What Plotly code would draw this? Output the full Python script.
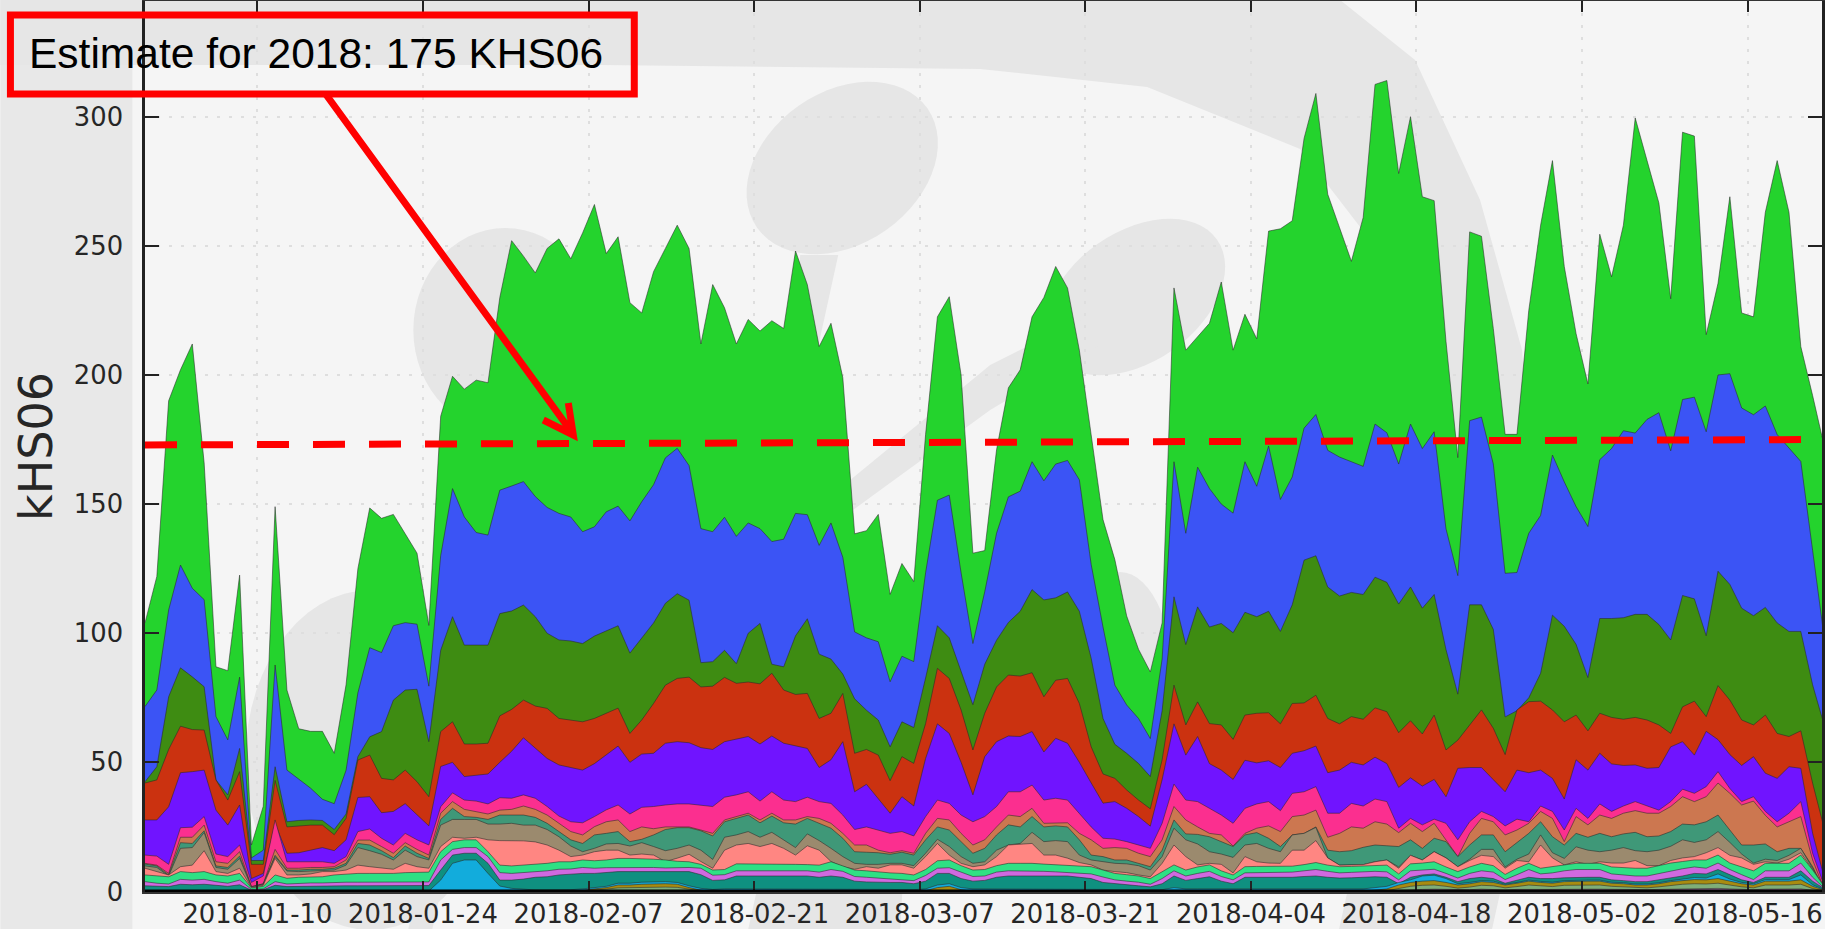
import numpy as np
import pandas as pd
import plotly.graph_objects as go

tick_dates = ["2018-01-10", "2018-01-24", "2018-02-07", "2018-02-21", "2018-03-07",
              "2018-03-21", "2018-04-04", "2018-04-18", "2018-05-02", "2018-05-16"]
y_ticks = [0, 50, 100, 150, 200, 250, 300]

# Top edge of each stacked band, one value per day
total = [104,122,190,202,212,166,87,85.5,122.5,18,
 33,149,78,63,62,62,53.5,80,125,148.5,
 144.5,146,138.5,131,103,184,199.5,194.5,198,197,
 230,252,246,239.5,249,252.7,245,255,266,247,
 253.5,228,224,240,249,258,249,212,235,226,
 212,221.5,217,221,218,248,235,211,220,199,
 138.5,139.7,146,115,127,120,177,222.5,230.3,200,
 131,132,171,195,202,222.5,230,242,233.7,209.6,
 176.8,144,128.5,106.7,93.8,85,104,233.7,209.6,214.7,
 220,236,209.6,223.5,214,255.7,256.6,259.7,291.6,309,
 270,257,244,261,312.5,314,278,300,269,267.5,
 213,168,255.4,253.7,218,177,177,225,258,283,
 242,216,196.5,254.5,238,258,299.5,283,266.6,229.5,
 294,292.5,215.6,235.5,269,224,222.5,263,283,263,
 211,192,172]
blue = [71.6,78,109,126.4,117.4,113,67.7,58.7,83,13,
 16,87.7,47,43.4,40,35.7,34,46.9,76.9,94.4,
 92.5,102.9,104.1,103.5,79.5,130,156,145,139,138,
 155.4,157,158.7,152.9,148.7,146.4,145,139.3,141.2,147,
 149.2,143.5,150.9,157.5,167.9,171.6,164.9,140.5,139.3,144.9,
 137.5,142.7,140.5,135.5,136.4,146.4,145.9,134,142.7,129.4,
 100.5,98.2,96.7,81.2,91.1,89,123.4,151.5,153.5,123.4,
 96,116,138.7,152.8,155,166.4,159,165.5,166.9,159.4,
 126.6,102.4,79.9,72.2,67,59.2,90,166.4,138.7,164.3,
 156,150,146.5,166.4,156.9,172.5,151.8,160.5,179.4,184.7,
 170.8,168.2,166.4,164.6,181,177.6,165.5,181,171.5,178,
 140.4,122.3,182.3,183.7,165.5,123.2,123.5,138.7,145.6,169,
 158.6,149,141.3,167.2,171.5,178.4,177.5,182.8,185.4,170.6,
 190.5,191.4,178,200,200.5,187.2,184.6,188,176.9,171.7,
 166.5,132,97.4]
dark_green = [42.5,48.3,75.4,86.6,83.1,79.3,43.2,37.4,55.4,12,
 12,48.3,27,27.5,27.7,27.5,24,30,52.2,59.9,
 61.9,74.1,78,78.3,58,93.4,106.4,95.4,95.4,95.4,
 107.6,108.6,110.9,106.4,100,97.4,97,96,98.9,101,
 102.9,92.3,98.2,104,111.6,115.3,112.8,88.6,89,93.4,
 88.2,100,103.8,88,87,99,105.6,91.9,90,84.2,
 74.6,70.2,66.4,56,65.7,63.5,82.7,102.9,98.2,84.9,
 72.3,88,97.3,104.2,108.5,116.9,112.9,113.7,116,108.5,
 90.3,67,57,53.5,49.6,44.5,70,114.1,95.6,110.2,
 102.4,103.8,100.2,108.1,106.4,108.5,100.7,111,128.3,130,
 117.9,114.4,115.8,115,121.7,119.7,111.3,117.9,109.7,115,
 93.7,76.4,111,111,101.5,67.6,70,75,84.5,107,
 102.7,95.7,82.8,105.7,105.7,106,107.3,107.3,103.4,97.4,
 114.6,113.3,99,124,118.9,109.7,106.8,110,104,100.7,
 100.7,80,64]
red = [42,43.2,55,64,62.7,62.5,43.2,35.4,46.4,10.5,
 10.5,43,25,25.4,25.7,25.7,22,28.3,50.9,52.8,
 43.8,43.2,47,42.5,36.7,61.9,65.7,57.1,57.1,57.4,
 68,70.5,74.1,71.8,70.9,67,66.4,65.7,67,69,
 71,61.2,66.4,72.8,79.9,82.5,83,79.2,79.5,82.9,
 80.6,81.1,80.4,84.5,78,76.3,76.7,67,69,76.7,
 53.5,55,52.8,42.9,52.2,49.6,65,86.4,82.5,70.3,
 54.8,69,79.2,83.8,83.4,84.7,75.4,81.8,82.5,72.8,
 56,45.5,43.8,39.3,35.4,32,51,79.9,64.5,73.4,
 65,64.5,58.9,68.3,69,69.2,64.9,72.8,73,76,
 67,64.9,67.7,66.7,71.1,69.6,61.5,66.1,61,68.3,
 54.8,58.6,64.5,70.3,63.2,53,70.3,73.5,73.7,70.3,
 65.7,68.3,62.2,69,67.4,66.7,67.4,66.4,64.5,61.2,
 71.5,73.7,67.7,79.7,74.1,66.4,64.5,68.3,61.2,60,
 62.2,41.9,24]
purple = [27.7,27.7,32.8,46,46.4,47,31.5,25.7,33.5,5,
 7,26.4,14.8,15,16,17,15.8,20,36.4,36.7,
 30.5,31,34,29.6,25.4,48.4,50,44.5,45,45.5,
 50,54.3,59.5,55.5,51.5,49,48,47,49.5,53,
 56.3,50,53.2,53.5,57.4,58,57.6,55.7,55,58,
 58.9,60,57.1,60.2,57.4,56.3,55.4,48,51,58,
 38.6,41.5,36.1,30.3,36.7,33.1,51.5,64.9,61.2,50,
 37.4,52.2,58,60.2,60,61.9,54,59.3,57.4,50,
 42,34.2,34.8,32.2,29,25.3,43.3,64.9,52.8,60,
 49.5,47,43.4,50.8,49.8,50.6,48,53.5,54.5,56.3,
 46,47,50,49,52,49.5,40.3,44,40.8,43.4,
 36.7,47.7,48,48,43.3,38.6,47,46,47,43.8,
 35.8,51,47,53.5,49.4,48.8,49,47.7,48,56,
 58,52.8,62,58.8,53,48.8,52.2,45.8,43.8,48.3,
 47.7,22.5,5]
pink = [14.1,13.7,10.5,24.7,24.9,29,14.5,13.5,18,3.5,
 6,27.7,11.5,11.5,11.5,11.5,10.9,13.5,23.2,24.2,
 20.6,18,22.5,20,18,32.8,38.2,35.4,35,33.9,
 36.3,36.1,37.4,36.1,32.9,29.2,27,26.6,29,31.6,
 33.5,30,32.6,32.9,33.5,33.9,33.9,33.5,32.9,36.5,
 37.4,38.6,35,38.6,35.4,34.8,36.5,34.8,34.1,29.6,
 24,25,23.8,22.5,23.2,21.5,29,35.4,34.1,29.6,
 27,29,32.9,38.6,38.6,41.2,35.4,36.1,35.4,30.3,
 25,20.6,20.3,19.3,18,16.7,26.4,41.6,35.4,34.8,
 32.2,29.6,26.4,32.2,33.9,34.8,31.3,38,38.6,40.6,
 30.3,30.3,34.1,33.1,35.8,34.8,24.5,28.3,25.8,28,
 26.4,20,27,31,29,25.4,28,27,33.1,31,
 23.8,32.2,28.3,33.9,31,33.1,34.8,33.1,31.5,34.8,
 39.6,38,40.6,46.4,39.9,34.8,36.7,31,27,30.3,
 34.8,14.8,1.9]
orange = [10.9,10.2,7,21,21,25.7,11.5,10.9,15.4,1.9,
 3,16.3,9,9,9.3,9.3,9.6,12.2,19.9,19.9,
 17.4,14.8,18.9,16.3,14.1,30.3,34.8,31.8,30.9,30,
 31.5,31.8,33.1,31.8,29.6,26.4,23.2,21.9,25.1,27,
 27.7,23.2,25,24.3,25,25,25,23.8,22.5,27.7,
 29,30.3,27.7,30.3,27.7,27.7,29,28.3,26.4,22.5,
 18,18,16,15,15.8,14.8,22.5,28.3,27.7,22.5,
 18,20,25,29.6,29,32.2,26.4,26.6,26.6,22.5,
 20,16.7,17,16.7,14.8,13.5,20,32.9,27.7,25,
 22.5,21.9,17.6,22.5,24.5,25.4,23.2,29,29.6,31.5,
 21,22.5,25,24.5,27,26.1,22.8,26.4,23.2,26.4,
 20,13.5,22.5,28.3,27,21.9,23.8,26.4,31,28.3,
 19.3,29,25.8,29.6,28.3,30.3,31.3,30.3,30.3,32.9,
 36.7,34.8,36.7,42,38,33.5,35,29.5,25,27,
 29,12.2,0.6]
teal = [10.6,9.9,6.4,18.9,18.6,23.5,9.9,9.3,13.7,1.8,
 2.9,14,8.3,8.3,8.6,8.6,9,10.9,18.6,18,
 15.8,13.1,17.6,14.8,12.8,27.9,32.2,29,28.7,27.9,
 29.6,29.6,29.6,28.7,26.4,23.2,20,18.6,21.9,22.5,
 23.2,19.3,20.2,21.9,24,24.7,24.7,23.5,21.5,27,
 28.3,29.6,26.6,29.2,26.6,26.1,28.3,26.4,24.5,20.6,
 15.4,15.2,15,14.4,15.2,14.1,20,25,23.8,19.3,
 14.8,16.7,21.9,25.8,25,29,25,25.4,25,20,
 14.1,13.5,12.2,12.2,10.9,9.6,16,27.7,22.3,22.1,
 21.2,19.3,17.4,21.9,22.8,20.6,17.4,21.9,22.5,25,
 16,15.4,15.8,17.1,18,17.7,17.4,20,16.7,20.6,
 19.3,13.5,18,21.9,21.9,15.4,18.9,22.5,27,21.2,
 18,22.5,21,22.5,21.2,22.3,22.9,21.2,21.5,23.2,
 26.1,25.8,27,29.6,23.8,18,18,18.4,15.4,16.7,
 16.7,9.6,0.4]
tan = [9.9,9.3,6,16.7,17,22.8,9.3,8.6,12.8,1.7,
 2.8,13.5,7.9,7.7,7.9,8,8.3,10.2,17,15.8,
 14.4,12.2,16,13.5,12.2,25.7,27.9,27.9,27.9,26.1,
 26.1,26.4,25.7,25.7,24,21.2,17.6,15.4,16.7,18.4,
 18.6,17.6,18.9,17.4,15.8,16.7,18,16,12.4,21,
 21.9,23.2,21,22.9,20,17,22.3,19.7,16.7,13.5,
 10.9,10.5,10.5,10.9,10.9,10,14.8,20.2,17.4,13.5,
 10.9,11.5,16,18,18.6,22.9,19.3,19.7,19.3,14.1,
 12.2,11.5,10.9,10.7,10,8.3,13.5,24.5,20,18.4,
 15.4,14.5,13.2,18,18.6,16.7,15.4,21.9,22.5,24.8,
 13,10.2,10.3,10.4,11.5,12.2,9.5,14,12.2,15.4,
 13,9.6,12.5,16.3,16.3,9.5,12.5,14.5,21.9,15,
 12.8,17.3,16,15.4,16,17,15.8,15.4,16,17.5,
 20,19,20,23.2,19,14.5,11,12.5,12,14,
 16.7,9,0.3]
salmon = [9,7.7,6.4,9.6,10.2,15.8,7.7,7,9,1.6,
 2.4,12.8,6.4,6.4,6.8,7.7,7.7,8.3,10.2,9.6,
 9,8.6,10.9,9.6,9,17.4,21,20.6,21,20,
 19.7,19.6,19.6,19.2,18,16,13.5,14.1,15.4,16,
 16,14.1,14.5,14.1,11.6,12.9,14.4,11.6,9,16,
 18,18.6,17.4,18.6,16.7,14.1,17.7,16,11.6,9.6,
 8.6,9.6,9,10.3,10.3,9,13.5,18.6,14.1,10.9,
 9.6,10.3,13.5,18,18.3,18.6,14.1,14.1,12.9,11.2,
 10.3,8.3,7.7,7.3,6.4,5.7,10.9,18,13.5,10.3,
 10.9,10.5,7.2,13.5,11.5,11,10.9,16,16,19.7,
 13,10.2,10.3,10.4,11.5,12.2,9,14,12.2,15.4,
 13,9.6,12,14,13.5,9,12,11.5,18,13,
 10.3,11.5,10.5,11.5,11,11,12,10,10,12,
 13,13.5,15,17,14,13,10.5,11.5,11,12.5,
 15,8.5,2]
light_green = [6.4,6,5.7,7.7,7.3,7.7,6.4,6,7,1.4,
 2,6.4,5.1,5.5,5.5,5.7,6.4,6.8,7,7,
 7,7,7.3,7.3,7.5,15.4,19.3,20,20,15.4,
 10.2,9.9,10.2,10.6,10.9,11.5,11.5,12.2,11.9,12.2,
 12.8,12.8,12.7,12.5,12.2,11.7,11.5,10.5,8.3,8.5,
 10.7,10.7,10.6,10.6,10.6,10.5,10.4,10.2,11.5,10,
 8.3,8,7.5,7.2,7,6.4,8.5,11.9,12.2,10,
 8.3,8.5,10,10.9,10.9,10.9,10.6,10.4,10.2,9.8,
 9.6,8.3,7,6.5,6,5,7.5,10.3,8.3,9.5,
 10.3,8,6.4,9.6,9.7,9.8,9.8,9.8,10.4,11.2,
 10.2,9.6,9.7,9.9,10.2,10.2,6.8,10.7,11,11.5,
 9.5,7.7,9.5,10.9,10,6.6,9,10.9,9,9.6,
 10.3,10.9,10.9,10.9,9.5,9.2,9,9,10,11,
 11.6,12.2,12.2,14.1,11,9.5,8,10.9,10.9,10.9,
 14.1,8.3,1.8]
violet = [3.8,3.2,2.9,4.7,4.4,4.7,3.8,3.2,4.4,0.8,
 1,3.8,2.9,3.2,3.3,3.3,3.5,3.6,3.6,3.6,
 3.6,3.6,3.6,3.6,3.7,12.2,16.3,17,17,13.5,
 7.3,7,7.3,7.7,8,8.6,8.7,9.3,9,9.2,
 9.3,9.3,9.2,9.3,9.1,9.3,9.3,9,6.3,6.5,
 8,8,8,8,8,8,8,7.5,8.5,7.8,
 5.8,5.5,5.2,4.8,4.6,4.2,6.2,9,9.2,7.5,
 5.8,6,7.5,8,8,8,7.8,7.6,7.4,7,
 6.8,5.6,4.5,4,3.6,2.8,5,8,6,7,
 7.8,5.8,4.5,7.2,7.3,7.3,7.5,7.5,8,8.5,
 7.8,7.2,7.4,7.5,7.8,7.6,4.5,8,8.3,8.6,
 7,5.2,7,8,7.5,4.6,6.5,8.5,6.8,7.2,
 8,8.5,8.5,8.5,6.8,6.3,6,6,7,8,
 8.8,9.5,9,11,8.5,6.5,4.6,8,8,8,
 11,5.5,1.2]
deep_teal = [2.2,2,1.9,2.8,2.6,2.8,2.3,2,2.6,0.5,
 0.7,2.4,1.9,2,2,2,2.1,2.2,2.2,2.2,
 2.2,2.2,2.2,2.2,2.3,8.3,14.1,14.8,14.8,10.9,
 4.4,4.4,4.8,5.5,5.7,6.4,6.8,7,7,7.3,
 7.7,7.7,7.7,7.7,7.7,7.7,7.7,6.5,4.3,4.5,
 6,6,6,6,6,6,6,5.5,6,5.5,
 4,3.7,3.5,3.5,3.5,3,4,7,7,5,
 4,4.3,5.5,6,6,6,6,6,6,5.5,
 5,3.5,3,2.5,2.2,1.8,3,6,4.3,5,
 5.7,4,3,5.5,5.5,5.5,5.5,5.5,5.8,6,
 5.5,5.2,5.3,5.5,5.7,5.5,3,5.5,6.4,6.8,
 5.5,3.8,5,5.5,5,3.2,4.5,5.5,5,5,
 5.3,5.5,5.5,5.5,4.5,4.2,3.8,3.8,4.5,5.3,
 6,7,6.8,8.5,6.5,4.5,3.5,5.5,5.5,5.5,
 8,4,1]
cyan = [0,0,0,0,0,0,0,0,0,0,
 0,0,0,0,0,0,0,0,0,0,
 0,0,0,0,0.2,4.4,10.9,12.2,12.2,7,
 2.1,1.2,0.8,0.6,0.6,0.6,0.7,1,1.5,2,
 3.2,3.2,3.6,3.8,3.8,3.5,2.2,1.2,0.8,1,
 1,1,1,1,1,1,1,1,0.9,0.9,
 0.8,0.8,0.8,0.8,0.7,0.7,1,2.5,3,1.5,
 1,1,1,1,1,1,1,1,1,1,
 1,0.8,0.7,0.7,0.6,0.5,0.7,1.5,1,1,
 1,0.8,0.8,1,1,1,1,1,1,1,
 1,1,1,1,1.5,2,3.5,4.5,6,6.3,
 5,3,3.5,4.2,4,2.8,3.5,4.4,3.9,3.6,
 4.2,4.4,4.4,4.4,3.6,3.4,2.9,2.9,3.4,4.2,
 4.8,5.4,5.2,6.8,4.8,3.5,3,4.6,4.6,4.6,
 6.4,2.6,0.7]
olive = [0,0,0,0,0,0,0,0,0,0,
 0,0,0,0,0,0,0,0,0,0,
 0,0,0,0,0,0,0,0,0,0,
 0,0,0,0,0,0,0.2,0.5,1,1.5,
 2.5,2.5,2.8,3,3,2.8,1.5,0.5,0,0,
 0,0,0,0,0,0,0,0,0,0,
 0,0,0,0,0,0,0.3,1.5,2,0.7,
 0,0,0,0,0,0,0,0,0,0,
 0,0,0,0,0,0,0,0,0,0,
 0,0,0,0,0,0,0,0,0,0,
 0,0,0,0,0.5,1,2.5,3.5,4,4.2,
 3.5,2.5,3,3.8,3.5,2.5,3.2,4,3.5,3.2,
 3.8,4,4,4,3.2,3,2.5,2.5,3,3.8,
 4.3,4.6,4.5,5,4,3,2.5,4,4,4,
 4.5,2,0.5]
sage = [0,0,0,0,0,0,0,0,0,0,
 0,0,0,0,0,0,0,0,0,0,
 0,0,0,0,0,0,0,0,0,0,
 0,0,0,0,0,0,0,0.3,0.5,0.9,
 1.4,1.5,1.6,1.7,1.7,1.6,0.8,0.2,0,0,
 0,0,0,0,0,0,0,0,0,0,
 0,0,0,0,0,0,0,0,0,0,
 0,0,0,0,0,0,0,0,0,0,
 0,0,0,0,0,0,0,0,0,0,
 0,0,0,0,0,0,0,0,0,0,
 0,0,0,0,0,0.3,1.2,2,2.4,2.5,
 2,1.3,1.7,2.4,2.2,1.4,1.9,2.5,2.2,1.9,
 2.4,2.5,2.5,2.5,2,1.8,1.4,1.4,1.8,2.4,
 2.8,3,2.9,3.2,2.5,1.8,1.4,2.5,2.5,2.5,
 2.8,1.1,0.2]
mauve = [0,0,0,0,0,0,0,0,0,0,
 0,0,0,0,0,0,0,0,0,0,
 0,0,0,0,0,0,0,0,0,0,
 0,0,0,0,0,0,0,0,0,0,
 0,0,0,0,0,0,0,0,0,0,
 0,0,0,0,0,0,0,0,0,0,
 0,0,0,0,0,0,0,0,0,0,
 0,0,0,0,0,0,0,0,0,0,
 0,0,0,0,0,0,0,0,0,0,
 0,0,0,0,0,0,0,0,0,0,
 0,0,0,0,0,0.1,0.4,0.7,0.8,0.9,
 0.8,0.6,0.7,0.9,0.8,0.6,0.8,0.9,0.8,0.8,
 0.9,0.9,0.9,0.9,0.8,0.8,0.7,0.7,0.8,0.9,
 1,1.1,1,1.2,1,0.8,0.7,0.9,0.9,0.9,
 1,0.5,0.1]

estimate_x = ["2017-12-31 12:00", "2018-05-22 07:00"]
estimate_y = [172.9, 175]

bands = [("total", total, "#24d32d"), ("blue", blue, "#3b54f5"), ("dark green", dark_green, "#3e8c12"),
         ("red", red, "#cb3210"), ("purple", purple, "#7014ff"), ("pink", pink, "#fb2f8f"),
         ("orange", orange, "#cc7750"), ("teal", teal, "#3f9878"), ("tan", tan, "#9b8a6e"),
         ("salmon", salmon, "#ff8682"), ("light green", light_green, "#2fe084"), ("violet", violet, "#d069e0"),
         ("deep teal", deep_teal, "#0f9080"), ("cyan", cyan, "#12acdc"), ("olive", olive, "#a88c10"),
         ("sage", sage, "#7fae78"), ("mauve", mauve, "#a070a0")]
for name, vals, _ in bands:
    assert len(vals) == 143, (name, len(vals))

days = pd.date_range("2017-12-31 12:00", periods=143, freq="D")

W, H = 1825, 929
L, R, T, B = 144.6, 1822.0, 1.0, 892.0
BG, WM = "#f5f5f5", "#e6e6e6"

def px(x): return (x - L) / (R - L)
def py(y): return (B - y) / (B - T)
def poly(pts): return "M " + " L ".join(f"{px(a):.5f},{py(b):.5f}" for a, b in pts) + " Z"
def ellipse(cx, cy, a, b, deg=0):
    t = np.linspace(0, 2 * np.pi, 60, endpoint=False)
    r = np.radians(deg)
    return poly(list(zip(cx + a * np.cos(t) * np.cos(r) - b * np.sin(t) * np.sin(r),
                         cy + a * np.cos(t) * np.sin(r) + b * np.sin(t) * np.cos(r))))
def deco(path, color=WM, layer="below", lw=0, lc=None):
    return dict(type="path", path=path, xref="paper", yref="paper", fillcolor=color,
                line=dict(width=lw, color=lc), layer=layer)

shapes = [
    deco(poly([(0, 0), (132, 0), (132, 929), (0, 929)]), "#e8e8e8"),
    deco(poly([(0, 0), (1340, 0), (1415, 60), (1480, 200), (1522, 350), (1532, 480), (1458, 480),
               (1430, 370), (1370, 240), (1300, 149), (1147, 87), (980, 69), (600, 65), (0, 65)])),
    deco(ellipse(842, 168, 104, 76, -35)),
    deco(poly([(800, 255), (838, 255), (815, 360), (790, 360)])),
    deco(ellipse(1135, 297, 100, 65, -35)),
    deco(poly([(850, 480), (990, 365), (1080, 320), (1100, 345), (990, 410), (850, 512)])),
    deco(ellipse(505, 330, 92, 102)),
    deco(ellipse(370, 760, 125, 170)),
    deco(ellipse(1120, 690, 55, 118)),
    deco(poly([(416, 893), (440, 893), (432, 929), (408, 929)])),
    deco(poly([(756, 893), (902, 893), (900, 929), (748, 929)])),
    deco(poly([(1347, 893), (1500, 893), (1492, 929), (1339, 929)])),
    # heavy bottom spine
    dict(type="line", xref="paper", yref="y", x0=0, x1=1, y0=-0.2, y1=-0.2,
         line=dict(color="#000000", width=5), layer="above"),
    # annotation box and arrow
    dict(type="rect", xref="paper", yref="paper", x0=px(10), x1=px(634), y0=py(15), y1=py(94),
         line=dict(color="#ff0000", width=7), fillcolor="rgba(0,0,0,0)", layer="above"),
    dict(type="path", xref="paper", yref="paper", layer="above", line=dict(color="#ff0000", width=7),
         path=f"M {px(326):.5f},{py(95):.5f} L {px(572):.5f},{py(433):.5f} "
              f"M {px(568):.5f},{py(403):.5f} L {px(573):.5f},{py(435):.5f} L {px(543):.5f},{py(420):.5f}"),
]

fig = go.Figure()
for name, vals, color in bands:
    fig.add_trace(go.Scatter(x=days, y=vals, mode="lines", name=name, fill="tozeroy", fillcolor=color,
                             line=dict(color="rgba(40,40,40,0.55)", width=1), showlegend=False,
                             hoverinfo="skip"))
fig.add_trace(go.Scatter(x=estimate_x, y=estimate_y, mode="lines", name="Estimate",
                         line=dict(color="#ff0000", width=7, dash="32px,24px"), showlegend=False))

fig.add_annotation(xref="paper", yref="paper", x=px(27), y=py(54), xanchor="left", yanchor="middle",
                   text="Estimate for 2018: 175 KHS06", showarrow=False,
                   font=dict(family="Liberation Sans", size=42.5, color="#000000"))

axis_font = dict(family="DejaVu Sans", size=25.8, color="#262626")
fig.update_layout(
    width=W, height=H, autosize=False,
    margin=dict(l=L, r=W - R, t=T, b=H - B, pad=0),
    paper_bgcolor=BG, plot_bgcolor=BG, showlegend=False, shapes=shapes,
    xaxis=dict(range=["2017-12-31 12:00", "2018-05-22 07:00"], tickvals=tick_dates, ticktext=tick_dates,
               tickfont=axis_font, ticks="inside", ticklen=11, tickcolor="#222222", tickwidth=1.5,
               showline=True, linecolor="#333333", linewidth=2, mirror="ticks", automargin=False,
               showgrid=True, gridcolor="#dedede", griddash="3px,9px", gridwidth=2, zeroline=False,
               ticklabelstandoff=-2),
    yaxis=dict(range=[-0.2, 344.8], tickvals=y_ticks, ticktext=[str(v) for v in y_ticks],
               tickfont=axis_font, ticks="inside", ticklen=14, tickcolor="#222222", tickwidth=1.5,
               showline=True, linecolor="#222222", linewidth=2.5, mirror="ticks", automargin=False,
               showgrid=True, gridcolor="#dedede", griddash="3px,9px", gridwidth=2, zeroline=False,
               ticklabelstandoff=14,
               title=dict(text="kHS06", font=dict(family="DejaVu Sans", size=46, color="#262626"), standoff=7)),
)

fig.write_html("out.html", config={"displayModeBar": False},
               post_script="document.body.style.margin='0';document.body.style.overflow='hidden';")
